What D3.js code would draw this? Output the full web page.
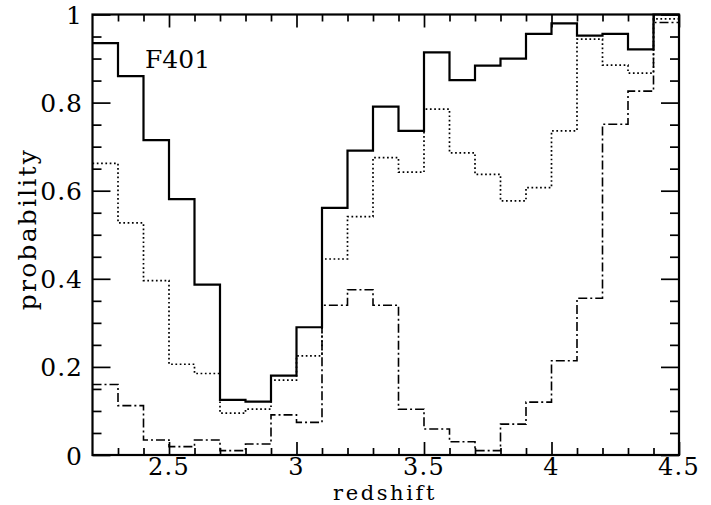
<!DOCTYPE html>
<html>
<head>
<meta charset="utf-8">
<script src="https://cdn.jsdelivr.net/npm/d3@7"></script>
<style>
  html, body { margin: 0; padding: 0; background: #fff; }
  svg { display: block; }
  text { font-family: "DejaVu Serif", "Liberation Serif", serif; fill: #000; }
</style>
</head>
<body>
<svg id="chart" width="711" height="505"></svg>
<script>
// Redshift bins (lower edges, width 0.1) from 2.2 to 4.5
const binEdges = [2.2, 2.3, 2.4, 2.5, 2.6, 2.7, 2.8, 2.9, 3.0, 3.1, 3.2, 3.3,
                  3.4, 3.5, 3.6, 3.7, 3.8, 3.9, 4.0, 4.1, 4.2, 4.3, 4.4, 4.5];

// Probability per bin for each selection
const probSolid = [0.935, 0.860, 0.715, 0.581, 0.387, 0.125, 0.121, 0.180, 0.290, 0.561, 0.691, 0.791,
                   0.736, 0.914, 0.851, 0.884, 0.900, 0.956, 0.980, 0.952, 0.956, 0.921, 1.000];
const probDotted = [0.662, 0.527, 0.396, 0.206, 0.185, 0.095, 0.104, 0.170, 0.225, 0.445, 0.541, 0.675,
                    0.642, 0.785, 0.686, 0.637, 0.577, 0.607, 0.736, 0.944, 0.885, 0.867, 0.990];
const probDashDot = [0.160, 0.112, 0.034, 0.019, 0.034, 0.010, 0.025, 0.091, 0.074, 0.340, 0.375, 0.340,
                     0.104, 0.059, 0.030, 0.010, 0.070, 0.120, 0.214, 0.356, 0.751, 0.826, 0.982];

const xMajorTicks = [2.5, 3, 3.5, 4, 4.5];
const xTickLabels = ["2.5", "3", "3.5", "4", "4.5"];
const yMajorTicks = [0, 0.2, 0.4, 0.6, 0.8, 1];
const yTickLabels = ["0", "0.2", "0.4", "0.6", "0.8", "1"];
const panelLabel = "F401";

const svg = d3.select("#chart");
const plotL = 92.5, plotR = 679, plotT = 14.5, plotB = 455;

const x = d3.scaleLinear().domain([2.2, 4.5]).range([plotL, plotR]);
const y = d3.scaleLinear().domain([0, 1]).range([plotB, plotT]);

const xMinor = d3.range(23).map(i => +(2.3 + i * 0.1).toFixed(2)).filter(v => v < 4.5 && !xMajorTicks.includes(v));
const yMinor = d3.range(1, 20).map(i => +(i * 0.05).toFixed(2)).filter(v => !yMajorTicks.includes(v));

function tickGroup(axisFn, scale, values, size, transform) {
  const g = svg.append("g").attr("transform", transform)
    .call(axisFn(scale).tickValues(values).tickSize(size).tickFormat(""));
  g.select(".domain").remove();
  g.selectAll(".tick line").attr("stroke", "#000").attr("stroke-width", 1.7);
  return g;
}

// inward ticks on all four sides
tickGroup(d3.axisBottom, x, xMinor, -7, `translate(0,${plotB})`);
tickGroup(d3.axisBottom, x, xMajorTicks, -13, `translate(0,${plotB})`);
tickGroup(d3.axisTop, x, xMinor, -7, `translate(0,${plotT})`);
tickGroup(d3.axisTop, x, xMajorTicks, -13, `translate(0,${plotT})`);
tickGroup(d3.axisLeft, y, yMinor, -9, `translate(${plotL},0)`);
tickGroup(d3.axisLeft, y, yMajorTicks, -18, `translate(${plotL},0)`);
tickGroup(d3.axisRight, y, yMinor, -9, `translate(${plotR},0)`);
tickGroup(d3.axisRight, y, yMajorTicks, -18, `translate(${plotR},0)`);

// tick labels
svg.append("g").selectAll("text").data(xMajorTicks).join("text")
  .attr("x", d => x(d)).attr("y", 474.5)
  .attr("text-anchor", "middle").attr("font-size", 24).attr("letter-spacing", 1.3)
  .text((d, i) => xTickLabels[i]);

svg.append("g").selectAll("text").data(yMajorTicks).join("text")
  .attr("x", 83).attr("y", d => y(d) + 9.5)
  .attr("text-anchor", "end").attr("font-size", 25).attr("letter-spacing", 1)
  .text((d, i) => yTickLabels[i]);

// axis titles
svg.append("text").attr("x", 385).attr("y", 499.6)
  .attr("text-anchor", "middle").attr("font-size", 21).attr("letter-spacing", 2.6)
  .text("redshift");
svg.append("text")
  .attr("transform", `translate(36,229) rotate(-90)`)
  .attr("text-anchor", "middle").attr("font-size", 25).attr("letter-spacing", 2.2)
  .text("probability");

svg.append("text").attr("x", 145).attr("y", 68)
  .attr("font-size", 25).text(panelLabel);

// step histograms
const line = d3.line().x(d => x(d[0])).y(d => y(d[1])).curve(d3.curveStepAfter);
function steps(vals) {
  const pts = vals.map((v, i) => [binEdges[i], v]);
  pts.push([binEdges[binEdges.length - 1], vals[vals.length - 1]]);
  return pts;
}

svg.append("path").attr("d", line(steps(probDotted)))
  .attr("fill", "none").attr("stroke", "#000").attr("stroke-width", 1.7)
  .attr("stroke-dasharray", "1.7,2.6");
svg.append("path").attr("d", line(steps(probDashDot)))
  .attr("fill", "none").attr("stroke", "#000").attr("stroke-width", 1.6)
  .attr("stroke-dasharray", "9,3,2,3");
svg.append("path").attr("d", line(steps(probSolid)))
  .attr("fill", "none").attr("stroke", "#000").attr("stroke-width", 2.2);

// frame
svg.append("rect").attr("x", plotL).attr("y", plotT)
  .attr("width", plotR - plotL).attr("height", plotB - plotT)
  .attr("fill", "none").attr("stroke", "#000").attr("stroke-width", 2.2);
</script>
</body>
</html>
